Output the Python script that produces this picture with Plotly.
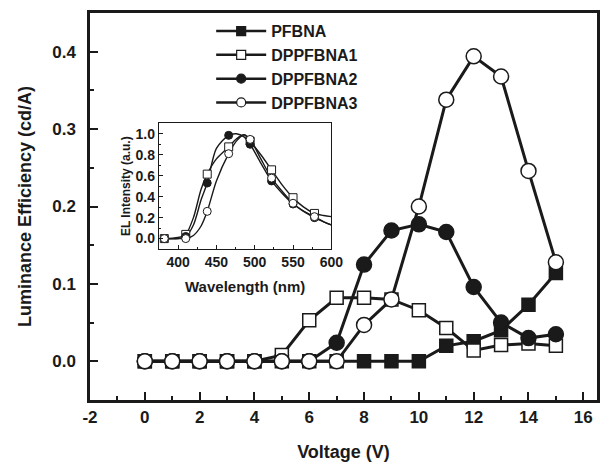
import plotly.graph_objects as go

# ---------------- Main plot data ----------------
voltage = list(range(0, 16))
pfbna    = [0, 0, 0, 0, 0, 0, 0, 0, 0, 0, 0, 0.020, 0.026, 0.040, 0.073, 0.114]
dppfbna1 = [0, 0, 0, 0, 0, 0.008, 0.053, 0.082, 0.082, 0.080, 0.066, 0.043, 0.014, 0.021, 0.023, 0.020]
dppfbna2 = [0, 0, 0, 0, 0, 0, 0, 0.024, 0.125, 0.169, 0.177, 0.167, 0.096, 0.050, 0.030, 0.035]
dppfbna3 = [0, 0, 0, 0, 0, 0, 0, 0, 0.047, 0.080, 0.200, 0.338, 0.394, 0.368, 0.246, 0.128]

names = ["PFBNA", "DPPFBNA1", "DPPFBNA2", "DPPFBNA3"]
x_ticks = [-2, 0, 2, 4, 6, 8, 10, 12, 14, 16]
y_ticks = [0.0, 0.1, 0.2, 0.3, 0.4]

# ---------------- Inset data (EL spectra) ----------------
wl_curve = [380, 400, 410, 420, 430, 438, 450, 466, 476, 486, 494, 508, 522, 536, 550, 564, 578, 590, 600]
el1_curve = [0, 0.01, 0.04, 0.20, 0.47, 0.615, 0.76, 0.875, 0.95, 0.99, 0.93, 0.80, 0.656, 0.51, 0.39, 0.30, 0.24, 0.22, 0.21]
el2_curve = [0, 0.0, 0.02, 0.13, 0.37, 0.53, 0.86, 0.985, 1.0, 0.97, 0.90, 0.72, 0.55, 0.43, 0.33, 0.26, 0.20, 0.16, 0.13]
el3_curve = [0, 0, 0.0, 0.03, 0.12, 0.26, 0.55, 0.81, 0.93, 0.99, 0.946, 0.76, 0.577, 0.45, 0.337, 0.26, 0.209, 0.16, 0.13]

wl_marker = [382, 410, 438, 466, 494, 522, 550, 578]
el1_marker = [0, 0.04, 0.615, 0.875, 0.93, 0.656, 0.39, 0.24]
el2_marker = [0, 0.02, 0.53, 0.985, 0.90, 0.55, 0.33, 0.20]
el3_marker = [0, 0.0, 0.26, 0.81, 0.946, 0.577, 0.337, 0.209]

wl_ticks = [400, 450, 500, 550, 600]
el_ticks = [0.0, 0.2, 0.4, 0.6, 0.8, 1.0]

INK = "#1a1a1a"
FONT = "Liberation Sans"

fig = go.Figure()

styles = [
    dict(symbol="square", color=INK, size=13),
    dict(symbol="square", color="white", size=13),
    dict(symbol="circle", color=INK, size=15),
    dict(symbol="circle", color="white", size=15),
]
series = [pfbna, dppfbna1, dppfbna2, dppfbna3]
for name, ys, st in zip(names, series, styles):
    fig.add_trace(go.Scatter(
        x=voltage, y=ys, name=name, mode="lines+markers", showlegend=False,
        line=dict(color=INK, width=3),
        marker=dict(symbol=st["symbol"], color=st["color"], size=st["size"],
                    line=dict(color=INK, width=1.5)),
        xaxis="x", yaxis="y",
    ))
# legend entries (smaller markers, as in the reference legend)
for name, st in zip(names, styles):
    fig.add_trace(go.Scatter(
        x=[None], y=[None], name=name, mode="lines+markers",
        line=dict(color=INK, width=2.5),
        marker=dict(symbol=st["symbol"], color=st["color"], size=9,
                    line=dict(color=INK, width=1.2)),
        xaxis="x", yaxis="y",
    ))

# inset curves
for ys in [el1_curve, el2_curve, el3_curve]:
    fig.add_trace(go.Scatter(
        x=wl_curve, y=ys, mode="lines", line=dict(color=INK, width=1.4, shape="spline", smoothing=0.8),
        showlegend=False, xaxis="x2", yaxis="y2", hoverinfo="skip",
    ))
inset_styles = [
    dict(symbol="square", color="white"),
    dict(symbol="circle", color=INK),
    dict(symbol="circle", color="white"),
]
for ys, st in zip([el1_marker, el2_marker, el3_marker], inset_styles):
    fig.add_trace(go.Scatter(
        x=wl_marker, y=ys, mode="markers",
        marker=dict(symbol=st["symbol"], color=st["color"], size=8, line=dict(color=INK, width=1)),
        showlegend=False, xaxis="x2", yaxis="y2",
    ))

axis_common = dict(
    showgrid=False, zeroline=False, showline=True, linecolor=INK,
    mirror=True, ticks="inside", tickcolor=INK,
)

fig.update_layout(
    width=603, height=460,
    margin=dict(l=82, r=6, t=2, b=68),
    paper_bgcolor="white", plot_bgcolor="white",
    font=dict(family=FONT, color=INK),
    xaxis=dict(
        **axis_common, range=[-2, 16.5], linewidth=2.5,
        tickvals=x_ticks, ticktext=[str(v) for v in x_ticks],
        ticklen=8, tickwidth=2,
        minor=dict(dtick=1, tick0=-1, ticks="inside", ticklen=4, tickwidth=2, tickcolor=INK),
        tickfont=dict(size=17, family=FONT, color=INK, weight="bold"),
        title=dict(text="<b>Voltage (V)</b>", font=dict(size=18, family=FONT, color=INK), standoff=20),
    ),
    yaxis=dict(
        **axis_common, range=[-0.05, 0.45], linewidth=2.5,
        tickvals=y_ticks, ticktext=["%.1f" % v for v in y_ticks],
        ticklen=8, tickwidth=2,
        minor=dict(dtick=0.05, tick0=0, ticks="inside", ticklen=4, tickwidth=2, tickcolor=INK),
        tickfont=dict(size=17, family=FONT, color=INK, weight="bold"),
        ticklabelstandoff=8,
        title=dict(text="<b>Luminance Efficiency (cd/A)</b>", font=dict(size=18, family=FONT, color=INK), standoff=16),
    ),
    xaxis2=dict(
        **axis_common, domain=[0.136, 0.476], anchor="y2", range=[375, 600], linewidth=1.3,
        tickvals=wl_ticks, ticklen=4, tickwidth=1,
        minor=dict(dtick=25, tick0=400, ticks="inside", ticklen=2, tickwidth=1, tickcolor=INK),
        tickfont=dict(size=14, family=FONT, color=INK, weight="bold"),
        title=dict(text="<b>Wavelength (nm)</b>", font=dict(size=15, family=FONT, color=INK), standoff=12),
    ),
    yaxis2=dict(
        **axis_common, domain=[0.39, 0.715], anchor="x2", range=[-0.1, 1.1], linewidth=1.3,
        tickvals=el_ticks, ticktext=["%.1f" % v for v in el_ticks],
        ticklen=4, tickwidth=1,
        minor=dict(dtick=0.1, tick0=0, ticks="inside", ticklen=2, tickwidth=1, tickcolor=INK),
        tickfont=dict(size=14, family=FONT, color=INK, weight="bold"),
        title=dict(text="<b>EL Intensity (a.u.)</b>", font=dict(size=12, family=FONT, color=INK), standoff=2),
    ),
    legend=dict(
        x=0.239, y=0.997, xanchor="left", yanchor="top",
        bgcolor="rgba(0,0,0,0)", borderwidth=0,
        font=dict(size=16, family=FONT, color=INK, weight="bold"),
        itemwidth=50, tracegroupgap=0,
    ),
    showlegend=True,
)

fig.write_html("out.html")
